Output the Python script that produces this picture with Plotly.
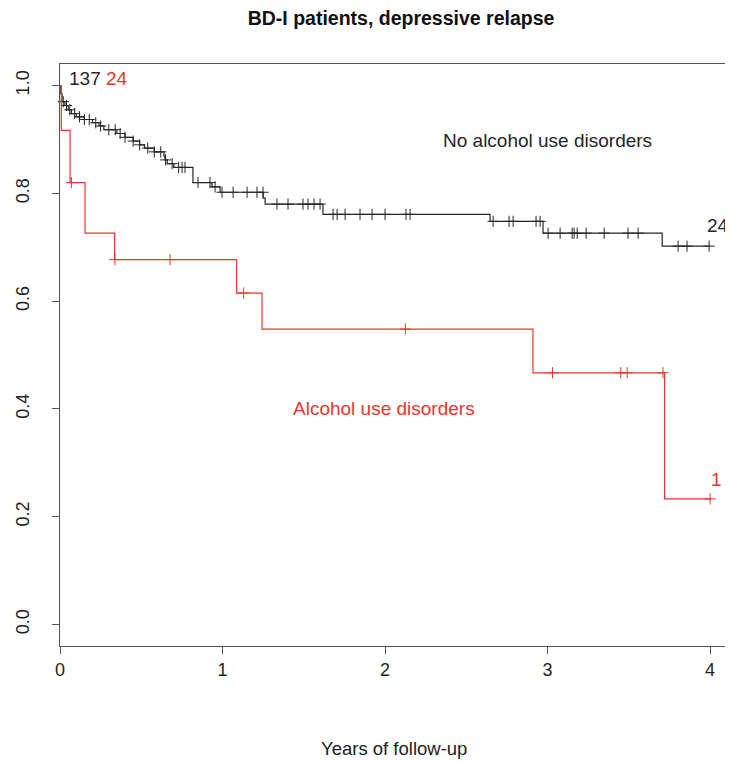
import numpy as np
import plotly.graph_objects as go

# ---- data ----
# No alcohol use disorders (n = 137)
noaud_event_times = [0.005, 0.012, 0.03, 0.05, 0.07, 0.10, 0.15, 0.20, 0.24, 0.27,
                     0.35, 0.40, 0.45, 0.49, 0.52, 0.58, 0.64, 0.645, 0.66, 0.70,
                     0.818, 0.935, 0.985, 1.25, 1.262, 1.618, 2.646, 2.972, 3.705]
noaud_surv = [0.985, 0.970, 0.963, 0.955, 0.948, 0.942, 0.937, 0.931, 0.925, 0.918,
              0.911, 0.904, 0.897, 0.890, 0.884, 0.877, 0.869, 0.862, 0.855, 0.848,
              0.820, 0.812, 0.802, 0.791, 0.780, 0.761, 0.748, 0.726, 0.702]
noaud_censor_times = [0.02, 0.04, 0.06, 0.09, 0.12, 0.15, 0.18, 0.22, 0.25, 0.30,
                      0.34, 0.37, 0.40, 0.45, 0.49, 0.54, 0.58, 0.62, 0.65, 0.69,
                      0.73, 0.751, 0.769, 0.849, 0.923, 0.954, 0.997, 1.065, 1.151,
                      1.212, 1.249, 1.335, 1.403, 1.495, 1.526, 1.563, 1.60, 1.68,
                      1.705, 1.754, 1.846, 1.92, 2.0, 2.129, 2.154, 2.665, 2.763,
                      2.788, 2.929, 2.954, 3.003, 3.077, 3.151, 3.163, 3.182, 3.237,
                      3.348, 3.495, 3.557, 3.803, 3.858, 3.994]

# Alcohol use disorders (n = 24)
aud_event_times = [0.008, 0.062, 0.154, 0.336, 1.087, 1.243, 2.91, 3.72]
aud_surv = [0.917, 0.820, 0.726, 0.677, 0.615, 0.548, 0.467, 0.233]
aud_censor_times = [0.07, 0.338, 0.677, 1.13, 2.125, 3.03, 3.45, 3.49, 3.71, 4.0]

n_start = {"noaud": "137", "aud": "24"}
n_end = {"noaud": "24", "aud": "1"}

title = "BD-I patients, depressive relapse"
x_title = "Years of follow-up"
x_ticks = [0, 1, 2, 3, 4]
y_ticks = [0.0, 0.2, 0.4, 0.6, 0.8, 1.0]

BLACK = "#262626"
RED = "#e8362c"

# page body has an 8px default margin: figure is sized/offset to compensate
OFF = 8
W, H = 733 - OFF, 761 - OFF
L, R, T, B = 60 - OFF, 5, 64 - OFF, 115
PW, PH = W - L - R, H - T - B


def step_value(times, surv, t):
    idx = np.searchsorted(np.array(times), t, side="right") - 1
    return 1.0 if idx < 0 else surv[idx]


def curve(times, surv, censors):
    end_t = max(max(censors), max(times))
    xs = [0.0] + list(times) + [end_t]
    ys = [1.0] + list(surv) + [surv[-1]]
    cy = [step_value(times, surv, c) for c in censors]
    return xs, ys, cy


fig = go.Figure()
for times, surv, cens, col in [
    (noaud_event_times, noaud_surv, noaud_censor_times, BLACK),
    (aud_event_times, aud_surv, aud_censor_times, RED),
]:
    xs, ys, cy = curve(times, surv, cens)
    fig.add_trace(go.Scatter(x=xs, y=ys, mode="lines", line=dict(color=col, width=1.2, shape="hv"),
                             showlegend=False, hoverinfo="skip", cliponaxis=False))
    fig.add_trace(go.Scatter(x=cens, y=cy, mode="markers",
                             marker=dict(symbol="cross-thin", size=8, line=dict(color=col, width=1)),
                             showlegend=False, hoverinfo="skip", cliponaxis=False))

font = "Liberation Sans, Arial, sans-serif"
ann = [
    dict(x=0.155, y=1.013, text=n_start["noaud"], color=BLACK),
    dict(x=0.35, y=1.013, text=n_start["aud"], color=RED),
    dict(x=2.997, y=0.898, text="No alcohol use disorders", color=BLACK),
    dict(x=1.994, y=0.40, text="Alcohol use disorders", color=RED),
    dict(x=4.05, y=0.741, text=n_end["noaud"], color=BLACK),
    dict(x=4.04, y=0.269, text=n_end["aud"], color=RED),
]
for a in ann:
    fig.add_annotation(x=a["x"], y=a["y"], xref="x", yref="y", text=a["text"], showarrow=False,
                       font=dict(family=font, size=19, color=a["color"]))

# x axis title
fig.add_annotation(x=0.5, y=-(748 - 646) / PH, xref="paper", yref="paper", text=x_title,
                   showarrow=False, yanchor="middle", font=dict(family=font, size=18.5, color="#222"))

fig.update_layout(
    width=W, height=H,
    margin=dict(l=L, r=R, t=T, b=B, autoexpand=False),
    plot_bgcolor="white", paper_bgcolor="white",
    title=dict(text="<b>" + title + "</b>", x=(401 - OFF) / W, xanchor="center", y=1 - (18 - OFF) / H,
               yanchor="middle", font=dict(family=font, size=19.5, color="#111")),
    font=dict(family=font, size=18, color="#222"),
)
fig.update_xaxes(range=[0, 4.11], tickvals=x_ticks, ticktext=[str(v) for v in x_ticks],
                 showgrid=False, zeroline=False, showline=True, linecolor="#555", linewidth=1,
                 mirror=True, ticks="outside", ticklen=7, tickcolor="#555",
                 tickfont=dict(size=18), automargin=False)
fig.update_yaxes(range=[-0.04, 1.04], tickvals=y_ticks, ticktext=[f"{v:.1f}" for v in y_ticks],
                 showgrid=False, zeroline=False, showline=True, linecolor="#555", linewidth=1,
                 mirror=True, ticks="outside", ticklen=7, tickcolor="#555", tickangle=-90,
                 ticklabelstandoff=16, tickfont=dict(size=18), automargin=False)

fig.write_html("out.html")
